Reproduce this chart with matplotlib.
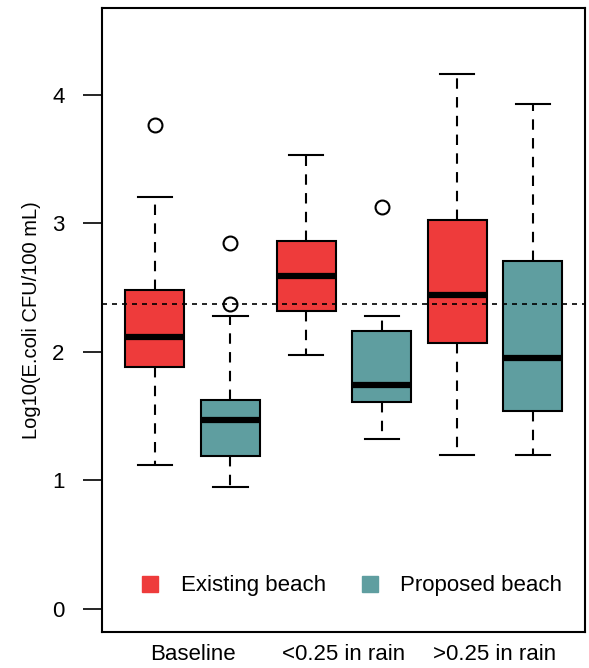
import matplotlib.pyplot as plt
from matplotlib.lines import Line2D

plt.rcParams['font.family'] = ['Liberation Sans', 'DejaVu Sans']

# five-number summaries per group (log10 CFU/100 mL)
groups = ['Baseline', '<0.25 in rain', '>0.25 in rain']
existing_whislo = [1.12, 1.98, 1.20]
existing_q1 = [1.88, 2.32, 2.07]
existing_med = [2.12, 2.59, 2.44]
existing_q3 = [2.48, 2.86, 3.03]
existing_whishi = [3.21, 3.53, 4.16]
existing_fliers = [[3.77], [], []]

proposed_whislo = [0.95, 1.32, 1.20]
proposed_q1 = [1.19, 1.61, 1.54]
proposed_med = [1.47, 1.74, 1.95]
proposed_q3 = [1.63, 2.16, 2.71]
proposed_whishi = [2.28, 2.28, 3.93]
proposed_fliers = [[2.85, 2.37], [3.13], []]

criterion = 2.371  # log10(235)

red = '#EE3B3B'
teal = '#5F9EA0'

stats, colors = [], []
for i in range(len(groups)):
    stats.append(dict(whislo=existing_whislo[i], q1=existing_q1[i], med=existing_med[i],
                      q3=existing_q3[i], whishi=existing_whishi[i], fliers=existing_fliers[i]))
    colors.append(red)
    stats.append(dict(whislo=proposed_whislo[i], q1=proposed_q1[i], med=proposed_med[i],
                      q3=proposed_q3[i], whishi=proposed_whishi[i], fliers=proposed_fliers[i]))
    colors.append(teal)

fig = plt.figure(figsize=(5.89, 6.68), dpi=100)
ax = fig.add_axes([102/589, 36/668, 483/589, 624/668])

bp = ax.bxp(stats, positions=range(1, 7), widths=0.78, patch_artist=True,
            boxprops=dict(linewidth=1.5, edgecolor='black'),
            whiskerprops=dict(linewidth=1.5, linestyle=(0, (5, 4))),
            capprops=dict(linewidth=1.5), capwidths=0.45,
            medianprops=dict(linewidth=4.5, color='black', solid_capstyle='butt'),
            flierprops=dict(marker='o', markersize=10, markerfacecolor='none',
                            markeredgecolor='black', markeredgewidth=1.5))
for patch, c in zip(bp['boxes'], colors):
    patch.set_facecolor(c)

ax.axhline(criterion, color='black', linewidth=1.2, linestyle=(0, (3, 3)), zorder=5)

ax.set_xlim(0.3, 6.69)
ax.set_ylim(-0.179, 4.677)
ax.set_xticks([1.5, 3.5, 5.5])
ax.set_xticklabels(groups, fontsize=16)
ax.tick_params(axis='x', length=0, pad=9)
ax.set_yticks([0, 1, 2, 3, 4])
ax.set_yticklabels(['0', '1', '2', '3', '4'], fontsize=16)
ax.tick_params(axis='y', length=14, width=1.2, pad=13)
ax.set_ylabel('Log10(E.coli CFU/100 mL)', fontsize=14.5, labelpad=8)
for s in ax.spines.values():
    s.set_linewidth(1.5)

handles = [Line2D([], [], marker='s', linestyle='none', markersize=11.5, color=red),
           Line2D([], [], marker='s', linestyle='none', markersize=11.5, color=teal)]
ax.legend(handles, ['Existing beach', 'Proposed beach'], ncol=2, frameon=False,
          loc='center', bbox_to_anchor=(0.518, 0.074), fontsize=16,
          handlelength=0.75, handletextpad=1.0, columnspacing=1.6)

fig.savefig('out.png', dpi=100)
